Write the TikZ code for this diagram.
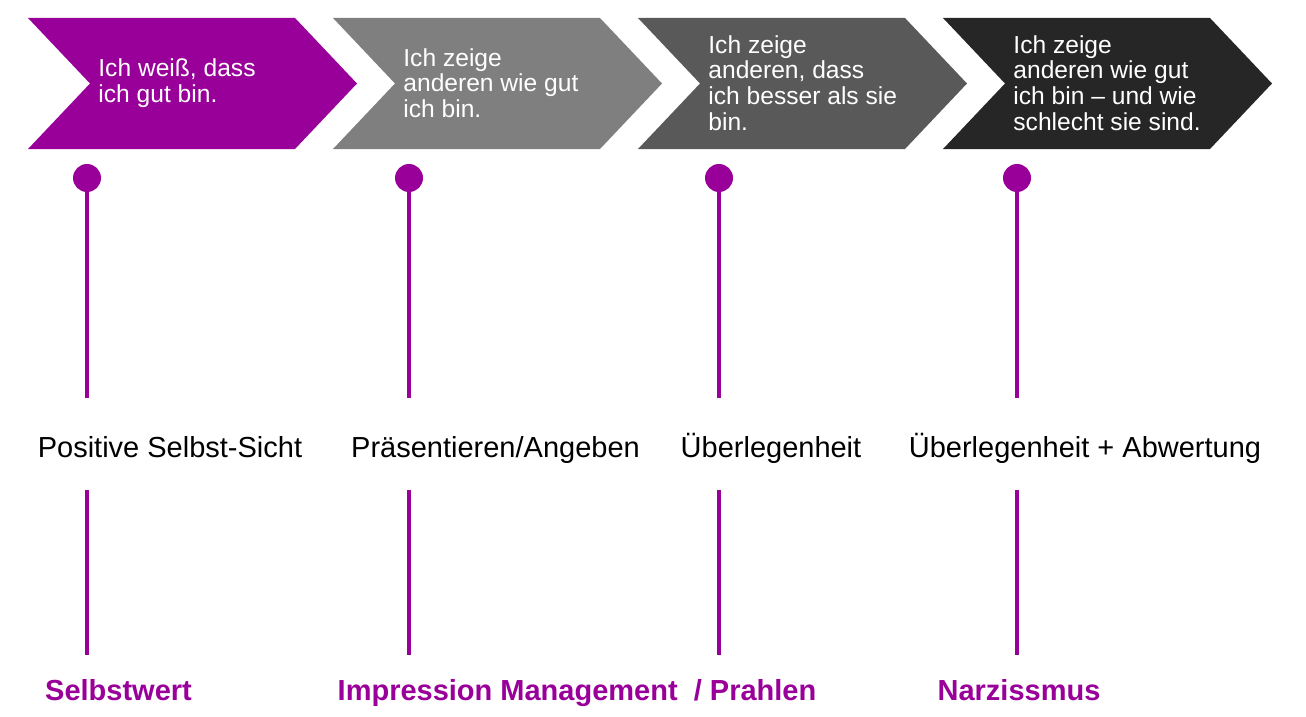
\documentclass[tikz,border=0pt]{standalone}
\usepackage{fontspec}
\setmainfont{Liberation Sans}
\definecolor{lila}{HTML}{990099}
\definecolor{grau}{HTML}{7F7F7F}
\definecolor{dgrau}{HTML}{595959}
\definecolor{schwarz}{HTML}{262626}

\tikzset{
  chevtext/.style={anchor=west, align=left, text=white, inner sep=0pt,
    font=\fontsize{12.3}{12.8}\selectfont},
  punkt/.style={circle, fill=lila, minimum size=14pt, inner sep=0pt},
  stiel/.style={draw=lila, line width=2pt},
  stufe/.style={inner sep=0pt, minimum height=46pt, text height=15pt, text depth=1.5pt,
    font=\fontsize{14.5}{16}\selectfont},
  begriff/.style={inner sep=0pt, minimum height=35pt, text height=12pt, text depth=2pt,
    text=lila, font=\bfseries\fontsize{14.5}{16}\selectfont},
}

\begin{document}
\begin{tikzpicture}[x=0.5pt, y=-0.5pt]
\useasboundingbox (0,0) rectangle (1306,717);

%chevrons
\foreach \i/\farbe in {0/lila,1/grau,2/dgrau,3/schwarz}
  \fill[\farbe] ({28+305*\i},18) -- ++(267,0) -- ++(62,65.5) -- ++(-62,65.5)
    -- ++(-267,0) -- ++(62,-65.5) -- cycle;

\node[chevtext] (t1) at (98,83) {Ich weiß, dass\\ich gut bin.};
\node[chevtext] (t2) at (403,83) {Ich zeige\\anderen wie gut\\ich bin.};
\node[chevtext] (t3) at (708,83) {Ich zeige\\anderen, dass\\ich besser als sie\\bin.};
\node[chevtext] (t4) at (1013,83) {Ich zeige\\anderen wie gut\\ich bin -- und wie\\schlecht sie sind.};

%dots
\node[punkt] (d1) at (87,178) {};
\node[punkt] (d2) at (409,178) {};
\node[punkt] (d3) at (719,178) {};
\node[punkt] (d4) at (1017,178) {};

%stufen
\node[stufe] (m1) at (170,444) {Positive Selbst-Sicht};
\node[stufe] (m2) at (495.5,444) {Präsentieren/Angeben};
\node[stufe] (m3) at (771,444) {Überlegenheit};
\node[stufe] (m4) at (1085,444) {Überlegenheit + Abwertung};

%begriffe
\node[begriff] (b1) at (118.5,690) {Selbstwert};
\node[begriff] (b2) at (577,690) {Impression Management \ / Prahlen};
\node[begriff] (b3) at (1019,690) {Narzissmus};

%stiele
\foreach \n/\b in {1/1,2/2,3/2,4/3}{
  \draw[stiel] (d\n) -- (d\n |- m\n.north);
  \draw[stiel] (d\n |- m\n.south) -- (d\n |- b\b.north);
}
\end{tikzpicture}
\end{document}
